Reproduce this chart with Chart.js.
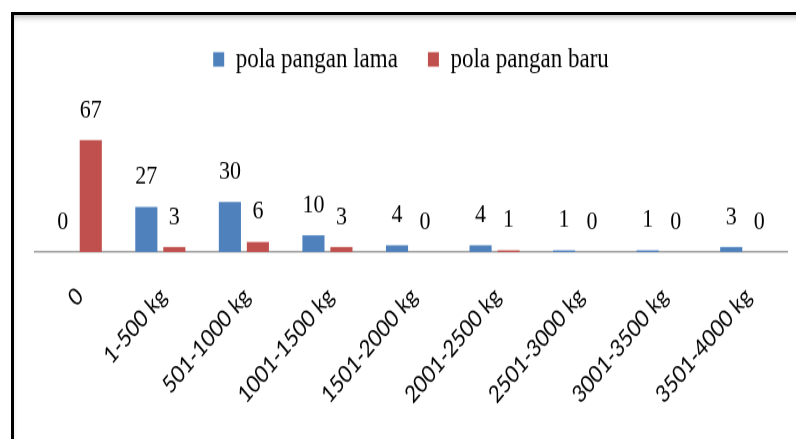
<!DOCTYPE html>
<html>
<head>
<meta charset="utf-8">
<script src="https://cdn.jsdelivr.net/npm/chart.js@4"></script>
<style>
  html, body { margin: 0; padding: 0; background: #fff; overflow: hidden; }
  body { width: 796px; height: 439px; position: relative; }
  .frame {
    position: absolute; left: 11px; top: 12px; width: 900px; height: 500px;
    border: 3px solid #000;
    box-shadow: inset 0 5px 6px -3px rgba(0,0,0,0.3);
  }
  /* the reference is stretched vertically, so draw flat and stretch it */
  .wrap {
    position: absolute; left: 0; top: 0; width: 796px; height: 366px;
    transform: scaleY(1.2); transform-origin: 0 0;
  }
</style>
</head>
<body>
<div class="frame"></div>
<div class="wrap"><canvas id="chart"></canvas></div>
<script>
const categories = ['0', '1-500 kg', '501-1000 kg', '1001-1500 kg', '1501-2000 kg',
  '2001-2500 kg', '2501-3000 kg', '3001-3500 kg', '3501-4000 kg'];
const polaLama = [0, 27, 30, 10, 4, 4, 1, 1, 3];
const polaBaru = [67, 3, 6, 3, 0, 1, 0, 0, 0];
const seriesNames = ['pola pangan lama', 'pola pangan baru'];

// numbers over every bar, zeros too
const valueLabels = {
  id: 'valueLabels',
  afterDatasetsDraw(chart) {
    const ctx = chart.ctx;
    ctx.save();
    ctx.font = '22px "Liberation Serif", "Times New Roman", serif';
    ctx.fillStyle = '#000';
    ctx.textAlign = 'center';
    ctx.textBaseline = 'middle';
    chart.data.datasets.forEach((ds, i) => {
      chart.getDatasetMeta(i).data.forEach((bar, j) => {
        ctx.fillText(ds.data[j], bar.x, bar.y - 25);
      });
    });
    ctx.restore();
  }
};

new Chart(document.getElementById('chart'), {
  type: 'bar',
  data: {
    labels: categories,
    datasets: [{
      label: seriesNames[0],
      data: polaLama,
      backgroundColor: '#4F81BD',
      barPercentage: 0.79,
      categoryPercentage: 0.67
    }, {
      label: seriesNames[1],
      data: polaBaru,
      backgroundColor: '#C0504D',
      barPercentage: 0.79,
      categoryPercentage: 0.67
    }]
  },
  options: {
    responsive: true,
    maintainAspectRatio: false,
    animation: false,
    layout: { padding: { top: 8, left: 35, right: 9, bottom: 0 } },
    plugins: {
      legend: {
        position: 'top',
        labels: {
          boxWidth: 11,
          boxHeight: 12,
          padding: 30,
          color: '#000',
          font: { family: '"Liberation Serif", "Times New Roman", serif', size: 23 }
        }
      },
      tooltip: { enabled: false }
    },
    scales: {
      x: {
        grid: { display: false, drawTicks: false },
        border: { display: true, color: '#a0a0a0', width: 1.5 },
        ticks: {
          color: '#000',
          autoSkip: false,
          minRotation: 45,
          maxRotation: 45,
          padding: 25,
          labelOffset: 3,
          font: { family: 'Lato, "Liberation Sans", sans-serif', size: 20 }
        }
      },
      y: {
        display: false,
        min: 0,
        max: 100
      }
    }
  },
  plugins: [valueLabels]
});
</script>
</body>
</html>
